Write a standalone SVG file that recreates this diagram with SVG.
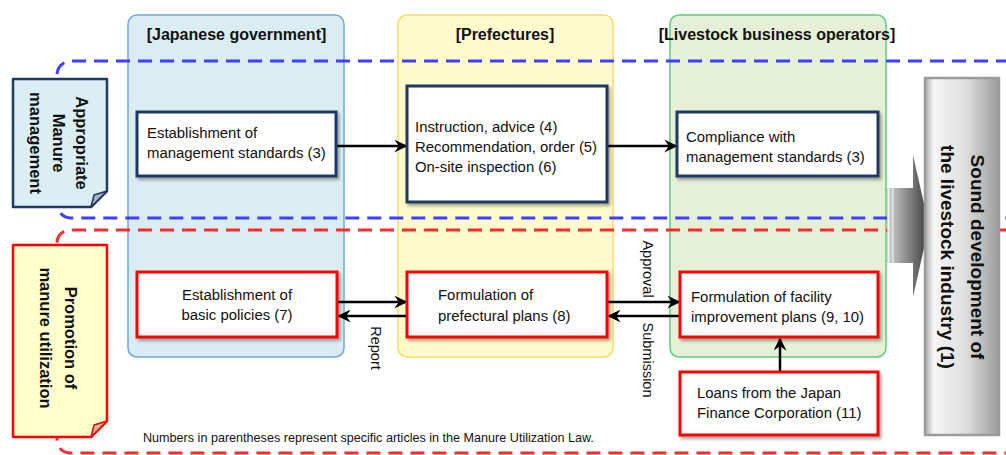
<svg xmlns="http://www.w3.org/2000/svg" width="1006" height="455" viewBox="0 0 1006 455">
  <defs>
    <style>
      text { font-family: "Liberation Sans", Arial, sans-serif; fill: #111; }
      .t { font-size: 14.9px; }
      .h { font-size: 16px; font-weight: bold; }
      .v { font-size: 16.5px; font-weight: bold; }
      .big { font-size: 19px; font-weight: bold; }
      .lbl { font-size: 14.5px; }
      .note { font-size: 12.6px; }
      .navy { fill: #fff; stroke: #1f3864; stroke-width: 3; filter: url(#sh); }
      .red { fill: #fff; stroke: #ff0000; stroke-width: 3; filter: url(#sh); }
      .conn { stroke: #000; stroke-width: 2.5; fill: none; marker-end: url(#ah); }
      .dash-b { fill: none; stroke: #3f3fff; stroke-width: 3; stroke-dasharray: 14 8; }
      .dash-r { fill: none; stroke: #ff2a2a; stroke-width: 3; stroke-dasharray: 14 8; }
    </style>
    <filter id="sh" x="-10%" y="-10%" width="130%" height="140%">
      <feDropShadow dx="2" dy="2.5" stdDeviation="1.5" flood-color="#000" flood-opacity="0.35"/>
    </filter>
    <marker id="ah" viewBox="0 0 10 10" refX="9" refY="5" markerWidth="13" markerHeight="13" markerUnits="userSpaceOnUse" orient="auto">
      <path d="M0,0 L10,5 L0,10 L3.5,5 Z" fill="#000"/>
    </marker>
    <linearGradient id="arrowFill" gradientUnits="userSpaceOnUse" x1="887" y1="0" x2="929" y2="0">
      <stop offset="0" stop-color="#d4d4d4"/>
      <stop offset="1" stop-color="#3a3a3a"/>
    </linearGradient>
    <linearGradient id="boxFill" x1="0" y1="0" x2="1" y2="0">
      <stop offset="0" stop-color="#a9a9a9"/>
      <stop offset="0.12" stop-color="#f6f6f6"/>
      <stop offset="0.55" stop-color="#dedede"/>
      <stop offset="1" stop-color="#9c9c9c"/>
    </linearGradient>
  </defs>

  <!-- actor columns -->
  <g id="col-government">
    <rect x="128" y="15" width="216" height="342" rx="9" fill="#daedf3" stroke="#6fa8dc" stroke-width="1.5"/>
    <text class="h" x="236.5" y="40" text-anchor="middle">[Japanese government]</text>
  </g>
  <g id="col-prefectures">
    <rect x="398" y="15" width="215" height="342" rx="9" fill="#fffbcc" stroke="#ffd966" stroke-width="1.5"/>
    <text class="h" x="505" y="40" text-anchor="middle">[Prefectures]</text>
  </g>
  <g id="col-operators">
    <rect x="670" y="15" width="216" height="342" rx="9" fill="#e6f0d6" stroke="#5ccf7f" stroke-width="1.5"/>
    <text class="h" x="777" y="40" text-anchor="middle">[Livestock business operators]</text>
  </g>

  <!-- dashed bands -->
  <path class="dash-b" d="M1010,61 H71 A14,14 0 0 0 57,75 V204 A14,14 0 0 0 71,218 H1010"/>
  <path class="dash-r" d="M1010,230 H70 A13,13 0 0 0 57,243 V440 A13,13 0 0 0 70,453 H1010"/>

  <!-- band labels -->
  <g id="label-management">
    <path d="M13,79 H107 V191 L91,207 H13 Z" fill="#daeef3" stroke="#1f3864" stroke-width="2.5" stroke-linejoin="round"/>
    <path d="M107,191 L91,207 L94,195 Z" fill="#a5b8c4" stroke="#1f3864" stroke-width="1.5" stroke-linejoin="round"/>
    <text class="v" transform="translate(82,143) rotate(90)" text-anchor="middle" dy="0.35em">Appropriate</text>
    <text class="v" transform="translate(59,143) rotate(90)" text-anchor="middle" dy="0.35em">Manure</text>
    <text class="v" transform="translate(36,143) rotate(90)" text-anchor="middle" dy="0.35em">management</text>
  </g>
  <g id="label-utilization">
    <path d="M13,245 H107 V421 L91,437 H13 Z" fill="#ffffcc" stroke="#ff0000" stroke-width="2.5" stroke-linejoin="round"/>
    <path d="M107,421 L91,437 L94,425 Z" fill="#c8b89a" stroke="#ff0000" stroke-width="1.5" stroke-linejoin="round"/>
    <text class="v" transform="translate(71,338) rotate(90)" text-anchor="middle" dy="0.35em">Promotion of</text>
    <text class="v" transform="translate(46,338) rotate(90)" text-anchor="middle" dy="0.35em">manure utilization</text>
  </g>

  <!-- outcome -->
  <g id="outcome">
    <path d="M887,188 H913 V155 L929,226 L913,297 V263 H887 Z" fill="url(#arrowFill)"/>
    <rect x="888" y="188" width="1.5" height="75" fill="#f0f0f0"/>
    <rect x="892" y="188" width="1.5" height="75" fill="#e8e8e8"/>
    <rect x="925" y="78" width="74" height="357" fill="url(#boxFill)" stroke="#9c9c9c" stroke-width="2.5"/>
    <text class="big" transform="translate(978,257) rotate(90)" text-anchor="middle" dy="0.35em">Sound development of</text>
    <text class="big" transform="translate(948,257) rotate(90)" text-anchor="middle" dy="0.35em">the livestock industry (1)</text>
  </g>

  <!-- connectors -->
  <g id="connectors">
    <line class="conn" x1="337" y1="146" x2="406" y2="146"/>
    <line class="conn" x1="608" y1="146" x2="676" y2="146"/>
    <line class="conn" x1="338" y1="302" x2="406" y2="302"/>
    <line class="conn" x1="406" y1="316" x2="339" y2="316"/>
    <line class="conn" x1="608" y1="302" x2="679" y2="302"/>
    <line class="conn" x1="679" y1="316" x2="609" y2="316"/>
    <line class="conn" x1="780" y1="372" x2="780" y2="339"/>
    <text class="lbl" transform="translate(376,348) rotate(90)" text-anchor="middle" dy="0.35em">Report</text>
    <text class="lbl" transform="translate(648,269) rotate(90)" text-anchor="middle" dy="0.35em">Approval</text>
    <text class="lbl" transform="translate(648,360) rotate(90)" text-anchor="middle" dy="0.35em">Submission</text>
  </g>

  <!-- management row -->
  <g id="n-standards">
    <rect class="navy" x="137" y="112" width="199" height="64"/>
    <text class="t" x="147" y="138">Establishment of</text>
    <text class="t" x="147" y="158">management standards (3)</text>
  </g>
  <g id="n-guidance">
    <rect class="navy" x="407" y="86" width="200" height="116"/>
    <text class="t" x="415" y="132">Instruction, advice (4)</text>
    <text class="t" x="415" y="152">Recommendation, order (5)</text>
    <text class="t" x="415" y="172">On-site inspection (6)</text>
  </g>
  <g id="n-compliance">
    <rect class="navy" x="677" y="112" width="201" height="64"/>
    <text class="t" x="686" y="142">Compliance with</text>
    <text class="t" x="686" y="162">management standards (3)</text>
  </g>

  <!-- utilization row -->
  <g id="n-policies">
    <rect class="red" x="137" y="272" width="200" height="65"/>
    <text class="t" x="237" y="300" text-anchor="middle">Establishment of</text>
    <text class="t" x="237" y="320" text-anchor="middle">basic policies (7)</text>
  </g>
  <g id="n-pref-plans">
    <rect class="red" x="407" y="272" width="200" height="65"/>
    <text class="t" x="438" y="300">Formulation of</text>
    <text class="t" x="438" y="321">prefectural plans (8)</text>
  </g>
  <g id="n-facility-plans">
    <rect class="red" x="680" y="272" width="198" height="65"/>
    <text class="t" x="691" y="302">Formulation of facility</text>
    <text class="t" x="691" y="322">improvement plans (9, 10)</text>
  </g>
  <g id="n-loans">
    <rect class="red" x="680" y="372" width="198" height="63"/>
    <text class="t" x="697" y="398">Loans from the Japan</text>
    <text class="t" x="697" y="418">Finance Corporation (11)</text>
  </g>

  <text class="note" x="143" y="442">Numbers in parentheses represent specific articles in the Manure Utilization Law.</text>
</svg>
